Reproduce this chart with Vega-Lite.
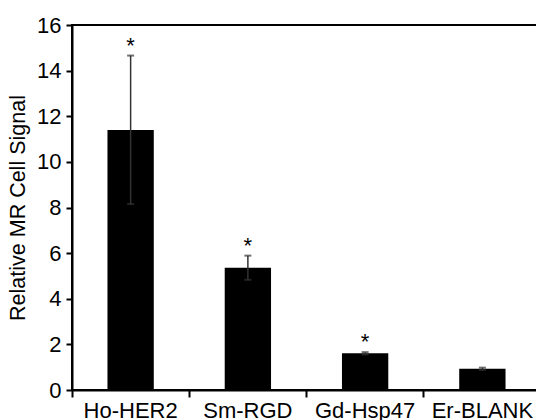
{
  "$schema": "https://vega.github.io/schema/vega-lite/v6.json",
  "width": 469,
  "height": 365,
  "autosize": {"type": "pad"},
  "padding": {"left": 7, "top": 14, "right": 0, "bottom": 0},
  "background": "white",
  "config": {
    "font": "Liberation Sans",
    "view": {"stroke": "black", "strokeWidth": 2},
    "axis": {
      "domainColor": "black",
      "domainWidth": 2,
      "tickColor": "black",
      "tickWidth": 2,
      "labelColor": "black",
      "titleColor": "black",
      "labelFont": "Liberation Sans",
      "titleFont": "Liberation Sans",
      "grid": false
    }
  },
  "data": {
    "values": [
      {"group": "Ho-HER2", "mean": 11.4, "low": 8.15, "high": 14.66, "star": "*"},
      {"group": "Sm-RGD", "mean": 5.36, "low": 4.83, "high": 5.89, "star": "*"},
      {"group": "Gd-Hsp47", "mean": 1.61, "low": 1.56, "high": 1.66, "star": "*"},
      {"group": "Er-BLANK", "mean": 0.93, "low": 0.88, "high": 0.98, "star": ""}
    ]
  },
  "encoding": {
    "x": {
      "field": "group",
      "type": "nominal",
      "sort": null,
      "scale": {"paddingInner": 0, "paddingOuter": 0},
      "axis": {
        "title": null,
        "labelAngle": 0,
        "labelFontSize": 22,
        "labelPadding": 3,
        "tickSize": 7,
        "bandPosition": 0
      }
    }
  },
  "layer": [
    {
      "mark": {"type": "bar", "color": "black", "width": {"band": 0.395}},
      "encoding": {
        "y": {
          "field": "mean",
          "type": "quantitative",
          "scale": {"domain": [0, 16], "nice": false},
          "axis": {
            "values": [0, 2, 4, 6, 8, 10, 12, 14, 16],
            "title": "Relative MR Cell Signal",
            "titleFontSize": 21.5,
            "titleFontWeight": "normal",
            "titlePadding": 7,
            "labelFontSize": 22,
            "labelPadding": 5,
            "tickSize": 6
          }
        }
      }
    },
    {
      "mark": {"type": "rule", "color": "#333333", "strokeWidth": 1.5},
      "encoding": {
        "y": {"field": "low", "type": "quantitative"},
        "y2": {"field": "high"}
      }
    },
    {
      "mark": {"type": "tick", "color": "#333333", "size": 7, "thickness": 2},
      "encoding": {"y": {"field": "high", "type": "quantitative"}}
    },
    {
      "mark": {"type": "tick", "color": "#333333", "size": 7, "thickness": 2},
      "encoding": {"y": {"field": "low", "type": "quantitative"}}
    },
    {
      "mark": {"type": "text", "fontSize": 22, "baseline": "alphabetic", "dy": -3, "color": "black"},
      "encoding": {
        "y": {"field": "high", "type": "quantitative"},
        "text": {"field": "star"}
      }
    }
  ]
}
